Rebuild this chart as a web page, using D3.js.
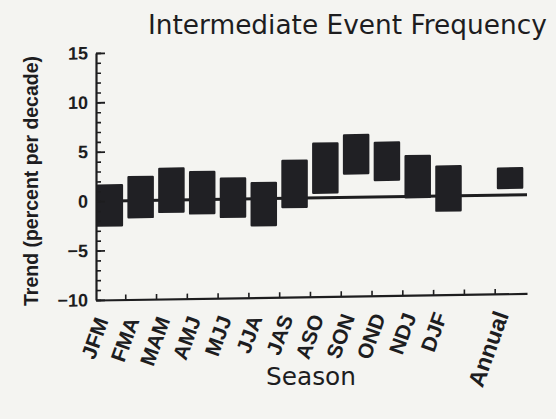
<!DOCTYPE html>
<html>
<head>
<meta charset="utf-8">
<script src="https://cdn.jsdelivr.net/npm/d3@7"></script>
<style>
  html, body { margin: 0; padding: 0; background: #f4f4f1; }
  svg { display: block; }
</style>
</head>
<body>
<svg id="chart" width="556" height="419"></svg>
<script>
// Seasonal trend ranges of intermediate event frequency (percent per decade)
const seasons   = ["JFM","FMA","MAM","AMJ","MJJ","JJA","JAS","ASO","SON","OND","NDJ","DJF","Annual"];
const slots     = [0, 1, 2, 3, 4, 5, 6, 7, 8, 9, 10, 11, 13];
const trendLow  = [-2.6, -1.8, -1.3, -1.5, -1.9, -2.8, -1.0, 0.4, 2.3, 1.6, -0.2, -1.6, 0.6];
const trendHigh = [ 1.7,  2.5,  3.3,  2.9,  2.2,  1.7,  3.9, 5.6, 6.4, 5.6,  4.2,  3.1, 2.8];
const yMajorTicks = [-10, -5, 0, 5, 10, 15];
const yMinorTicks = d3.range(-10, 16, 1);
const xTickSlots  = d3.range(0.5, 13, 1);

const ink = "#1d1d1f";
const svg = d3.select("#chart");

const x = d3.scaleLinear().domain([-0.45, 13.55]).range([96, 527]);
const y = d3.scaleLinear().domain([-10, 15]).range([300, 53]);

// fit a text element to a target length by scaling its font size
function fitText(sel, target, base) {
  const w = sel.node().getComputedTextLength();
  sel.attr("font-size", base * target / w);
}

const title = svg.append("text")
  .attr("x", 148).attr("y", 34)
  .attr("font-family", "DejaVu Sans, sans-serif")
  .attr("font-size", 24)
  .attr("fill", ink)
  .text("Intermediate Event Frequency");
fitText(title, 399, 24);

const yLabel = svg.append("text")
  .attr("transform", "translate(38,181) rotate(-90)")
  .attr("text-anchor", "middle")
  .attr("font-family", "Liberation Sans, Arial, sans-serif")
  .attr("font-weight", "bold")
  .attr("font-size", 15)
  .attr("fill", ink)
  .text("Trend (percent per decade)");
fitText(yLabel, 250, 15);

// plot area, with the slight tilt of the printed frame
const plot = svg.append("g")
  .attr("transform", "translate(96,0) skewY(-0.87) translate(-96,0)");

// zero reference line
plot.append("line")
  .attr("x1", x.range()[0]).attr("x2", x.range()[1])
  .attr("y1", y(0)).attr("y2", y(0))
  .attr("stroke", ink).attr("stroke-width", 3);

// trend range boxes
const barW = 26.5;
plot.append("g").selectAll("rect")
  .data(seasons)
  .join("rect")
  .attr("x", (d, i) => x(slots[i]) - barW / 2)
  .attr("width", barW)
  .attr("y", (d, i) => y(trendHigh[i]))
  .attr("height", (d, i) => y(trendLow[i]) - y(trendHigh[i]))
  .attr("rx", 1.2)
  .attr("fill", "#202024");

// left axis: minor ticks, then labelled major ticks
plot.append("g")
  .attr("transform", `translate(${x.range()[0]},0)`)
  .call(d3.axisLeft(y).tickValues(yMinorTicks).tickSize(-5).tickSizeOuter(0).tickFormat(""))
  .call(g => g.select(".domain").attr("stroke", ink).attr("stroke-width", 2.2))
  .call(g => g.selectAll(".tick line").attr("stroke", ink).attr("stroke-width", 1.6));

plot.append("g")
  .attr("transform", `translate(${x.range()[0]},0)`)
  .call(d3.axisLeft(y).tickValues(yMajorTicks).tickSize(-9).tickSizeOuter(0).tickPadding(8)
        .tickFormat(d => d < 0 ? "\u2212" + Math.abs(d) : d))
  .call(g => g.select(".domain").remove())
  .call(g => g.selectAll(".tick line").attr("stroke", ink).attr("stroke-width", 1.8))
  .call(g => g.selectAll(".tick text")
      .attr("fill", ink)
      .attr("font-family", "Liberation Sans, Arial, sans-serif")
      .attr("font-weight", "bold")
      .attr("font-size", 18));

// bottom axis
plot.append("g")
  .attr("transform", `translate(0,${y.range()[0]})`)
  .call(d3.axisBottom(x).tickValues(xTickSlots).tickSize(-5).tickSizeOuter(0).tickFormat(""))
  .call(g => g.select(".domain").attr("stroke", ink).attr("stroke-width", 2.2))
  .call(g => g.selectAll(".tick line").attr("stroke", ink).attr("stroke-width", 1.6));

// season labels
plot.append("g").selectAll("text")
  .data(seasons)
  .join("text")
  .attr("transform", (d, i) => `translate(${x(slots[i]) - 1},${y.range()[0] + 21}) rotate(-70)`)
  .attr("text-anchor", "end")
  .attr("font-family", "Liberation Sans, Arial, sans-serif")
  .attr("font-weight", "bold")
  .attr("font-size", d => d.length > 3 ? 23 : 21)
  .attr("fill", ink)
  .text(d => d);

const xLabel = svg.append("text")
  .attr("x", 311).attr("y", 385)
  .attr("text-anchor", "middle")
  .attr("font-family", "DejaVu Sans, sans-serif")
  .attr("font-size", 24)
  .attr("fill", ink)
  .text("Season");
fitText(xLabel, 90, 24);
</script>
</body>
</html>
